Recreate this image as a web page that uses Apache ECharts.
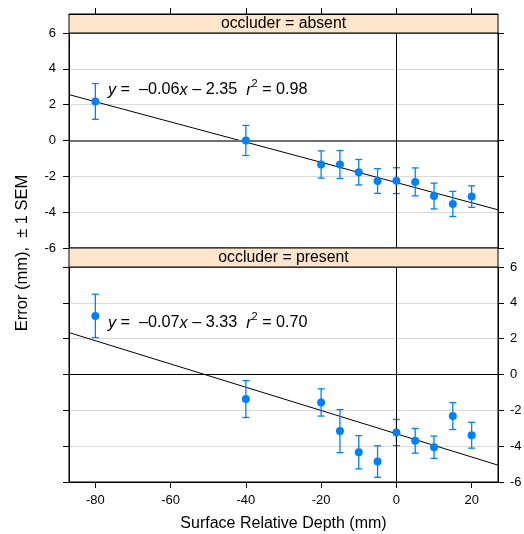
<!DOCTYPE html>
<html>
<head>
<meta charset="utf-8">
<script src="https://cdn.jsdelivr.net/npm/echarts@6/dist/echarts.min.js"></script>
<style>html,body{margin:0;padding:0;background:#fff;}#c{width:524px;height:534px;}</style>
</head>
<body>
<div id="c"></div>
<script>
// ---- data ----
const depth = [-80, -40, -20, -15, -10, -5, 0, 5, 10, 15, 20];
const absentMean = [2.18, 0.0, -1.34, -1.34, -1.77, -2.26, -2.24, -2.31, -3.10, -3.54, -3.13];
const absentSem  = [1.00, 0.84, 0.76, 0.78, 0.71, 0.69, 0.72, 0.78, 0.72, 0.70, 0.60];
const presentMean = [3.27, -1.37, -1.56, -3.16, -4.34, -4.86, -3.24, -3.70, -4.06, -2.32, -3.39];
const presentSem  = [1.21, 1.03, 0.76, 1.20, 0.93, 0.88, 0.73, 0.69, 0.62, 0.75, 0.72];
const fitX = [-87, 27];
const absentFitY = [2.56, -3.87];
const presentFitY = [2.34, -5.06];
const xRange = [-87, 27];
const yRange = [-6, 6];
const xTicks = [-80, -60, -40, -20, 0, 20];
const yTicks = [-6, -4, -2, 0, 2, 4, 6];
const panelNames = ['occluder = absent', 'occluder = present'];
const absentEq = ['y', ' =  \u20130.06', 'x', ' \u2013 2.35  ', 'r', '2', ' = 0.98'];
const presentEq = ['y', ' =  \u20130.07', 'x', ' \u2013 3.33  ', 'r', '2', ' = 0.70'];

const FONT = '"Liberation Sans", Arial, Helvetica, sans-serif';
const BLUE = '#0080ff';
const L = 69, W = 429, H = 215, T0 = 33, T1 = 267, STRIP = 19;

function errData(mean, sem) { return depth.map((d, i) => [d, mean[i] - sem[i], mean[i] + sem[i]]); }
function ptData(mean) { return depth.map((d, i) => [d, mean[i]]); }
function fitData(fy) { return fitX.map((x, i) => [x, fy[i]]); }

function errRender(params, api) {
  const x = api.value(0);
  const a = api.coord([x, api.value(1)]);
  const b = api.coord([x, api.value(2)]);
  const c = 3.5;
  const st = { stroke: BLUE, lineWidth: 1.3 };
  return { type: 'group', children: [
    { type: 'line', shape: { x1: a[0], y1: a[1], x2: b[0], y2: b[1] }, style: st },
    { type: 'line', shape: { x1: a[0] - c, y1: a[1], x2: a[0] + c, y2: a[1] }, style: st },
    { type: 'line', shape: { x1: b[0] - c, y1: b[1], x2: b[0] + c, y2: b[1] }, style: st }
  ]};
}

function xAxisCfg(gi, top) {
  return {
    type: 'value', gridIndex: gi, min: xRange[0], max: xRange[1],
    position: top ? 'top' : 'bottom', offset: top ? STRIP : 0,
    axisLine: { show: true, onZero: false, lineStyle: { color: '#000', width: 1 } },
    axisTick: { show: true, inside: false, length: 6, lineStyle: { color: '#000', width: 1 }, customValues: xTicks },
    axisLabel: { show: true, inside: top, margin: top ? 4 : 12, fontSize: top ? 8 : 13,
      color: top ? 'rgba(0,0,0,0)' : '#000', fontFamily: FONT, customValues: xTicks },
    splitLine: { show: false },
    name: top ? '' : 'Surface Relative Depth (mm)', nameLocation: 'middle', nameGap: 34,
    nameTextStyle: { fontSize: 16, color: '#000', fontFamily: FONT },
    z: 60
  };
}
function yAxisCfg(gi, pos, labels, split) {
  return {
    type: 'value', gridIndex: gi, min: yRange[0], max: yRange[1], interval: 2, position: pos,
    axisLine: { show: true, onZero: false, lineStyle: { color: '#000', width: 1 } },
    axisTick: { show: true, inside: false, length: 6, lineStyle: { color: '#000', width: 1 }, customValues: yTicks },
    axisLabel: { show: labels, margin: pos === 'left' ? 13 : 12, fontSize: 13, color: '#000', fontFamily: FONT, customValues: yTicks },
    splitLine: { show: split, lineStyle: { color: '#d9d9d9', width: 1.2 } }
  };
}

function panelSeries(gi, mean, sem, fy, zeroColor, zeroWidth) {
  return [
    { type: 'line', xAxisIndex: gi, yAxisIndex: gi * 2, data: fitData(fy), showSymbol: false, symbol: 'none',
      lineStyle: { color: '#000', width: 1 }, silent: true, z: 3, clip: true,
      markLine: { silent: true, symbol: 'none', label: { show: false }, animation: false,
        data: [
          { yAxis: 0, lineStyle: { color: zeroColor, width: zeroWidth, type: 'solid' } },
          { xAxis: 0, lineStyle: { color: '#000', width: 1, type: 'solid' } }
        ] } },
    { type: 'custom', xAxisIndex: gi, yAxisIndex: gi * 2, data: errData(mean, sem), renderItem: errRender, z: 4,
      encode: { x: 0, y: [1, 2] } },
    { type: 'scatter', xAxisIndex: gi, yAxisIndex: gi * 2, data: ptData(mean), symbol: 'circle', symbolSize: 8,
      itemStyle: { color: BLUE, opacity: 1 }, z: 5 }
  ];
}

function eqText(parts, y) {
  return {
    type: 'text', left: 108, top: y - 11, z: 100,
    style: {
      text: '{i|' + parts[0] + '}{n|' + parts[1] + '}{i|' + parts[2] + '}{n|' + parts[3] + '}{i|' + parts[4] + '}{s|' + parts[5] + '}{n|' + parts[6] + '}',
      rich: {
        n: { fontSize: 16.2, fontFamily: FONT, color: '#000', lineHeight: 20, verticalAlign: 'bottom' },
        i: { fontSize: 16.2, fontFamily: FONT, fontStyle: 'italic', color: '#000', lineHeight: 20, verticalAlign: 'bottom' },
        s: { fontSize: 11, fontFamily: FONT, color: '#000', lineHeight: 20, verticalAlign: 'top', padding: [0, 0, 9, 0] }
      }
    }
  };
}

function strip(top, label) {
  return [
    { type: 'rect', z: 50, shape: { x: L, y: top, width: W, height: STRIP },
      style: { fill: '#ffe5cc', stroke: '#000', lineWidth: 1 } },
    { type: 'text', z: 51, x: L + W / 2, y: top + STRIP / 2 + 0.5,
      style: { text: label, fontSize: 15.8, fontFamily: FONT, fill: '#000', align: 'center', verticalAlign: 'middle' } }
  ];
}

const chart = echarts.init(document.getElementById('c'), null, { renderer: 'canvas' });
chart.setOption({
  animation: false,
  backgroundColor: '#fff',
  grid: [
    { left: L, width: W, top: T0, height: H, show: true, borderColor: '#000', borderWidth: 1, backgroundColor: 'transparent', z: 10, outerBoundsMode: 'none', containLabel: false },
    { left: L, width: W, top: T1, height: H, show: true, borderColor: '#000', borderWidth: 1, backgroundColor: 'transparent', z: 10, outerBoundsMode: 'none', containLabel: false }
  ],
  xAxis: [ xAxisCfg(0, true), xAxisCfg(1, false) ],
  yAxis: [
    yAxisCfg(0, 'left', true, true), yAxisCfg(0, 'right', false, false),
    yAxisCfg(1, 'left', false, true), yAxisCfg(1, 'right', true, false)
  ],
  series: [].concat(
    panelSeries(0, absentMean, absentSem, absentFitY, '#707070', 2),
    panelSeries(1, presentMean, presentSem, presentFitY, '#000', 1)
  ),
  graphic: [].concat(
    strip(T0 - STRIP, panelNames[0]),
    strip(T1 - STRIP, panelNames[1]),
    [eqText(absentEq, 89), eqText(presentEq, 322),
     { type: 'text', x: 22, y: 253, rotation: Math.PI / 2, z: 100,
       style: { text: 'Error (mm),  \u00b1 1 SEM', fontSize: 16.5, fontFamily: FONT, fill: '#000', align: 'center', verticalAlign: 'middle' } }]
  )
});
</script>
</body>
</html>
